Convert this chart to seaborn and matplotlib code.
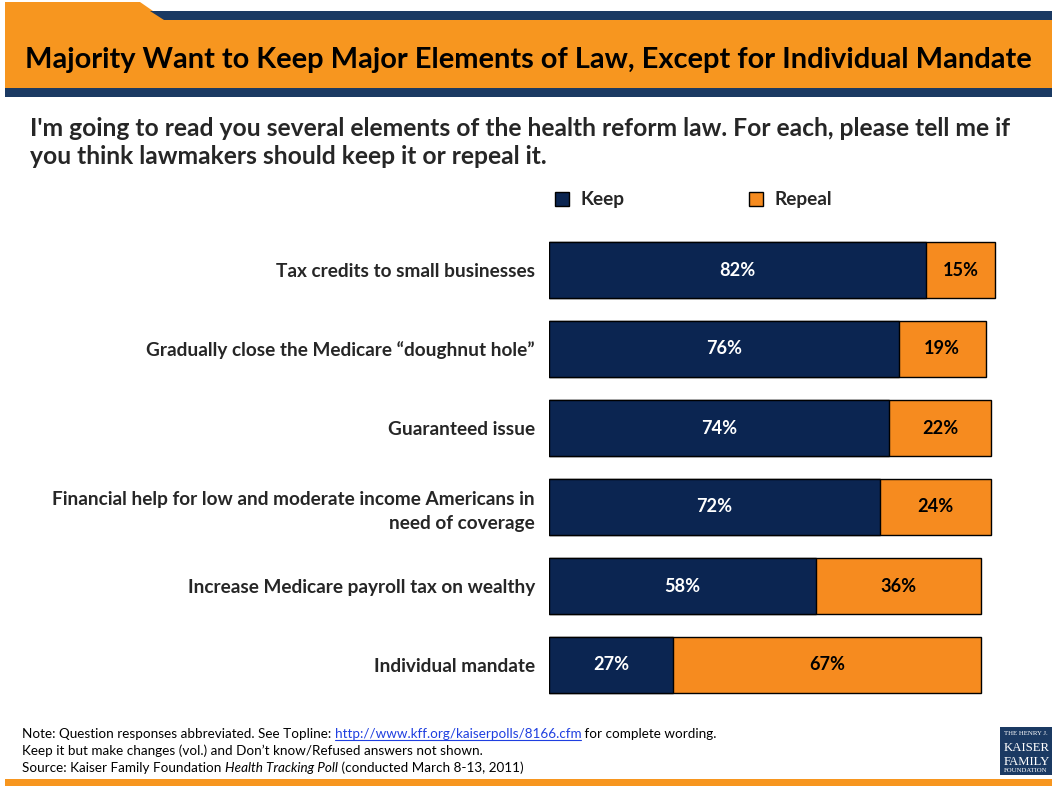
import matplotlib
matplotlib.use("Agg")
import matplotlib.pyplot as plt
from matplotlib.patches import Rectangle, Polygon
from matplotlib.lines import Line2D
import seaborn as sns
import pandas as pd

# Survey items and shares (percent)
items = [
    "Tax credits to small businesses",
    "Gradually close the Medicare \u201cdoughnut hole\u201d",
    "Guaranteed issue",
    "Financial help for low and moderate income Americans in\nneed of coverage",
    "Increase Medicare payroll tax on wealthy",
    "Individual mandate",
]
keep = [82, 76, 74, 72, 58, 27]
repeal = [15, 19, 22, 24, 36, 67]

NAVY = "#0B2551"
ORANGE = "#F68B1F"
BAND_NAVY = "#1B3A63"
BAND_ORANGE = "#F7961F"

W, H = 1052, 786
sns.set_theme(style="white")
plt.rcParams["font.family"] = ["Lato", "DejaVu Sans"]

fig = plt.figure(figsize=(W / 100, H / 100), dpi=100)
renderer = fig.canvas.get_renderer()


def fx(x):
    return x / W


def fy(y):
    return 1 - y / H


def width_of(t):
    return t.get_window_extent(renderer).width


def fitted_size(s, target, weight="bold", style="normal", family=None):
    t = fig.text(0, 0, s, fontsize=10, fontweight=weight, fontstyle=style,
                 family=family or plt.rcParams["font.family"])
    w = width_of(t)
    t.remove()
    return 10 * target / w


# ---- header band ----
fig.patches.append(Polygon([(fx(5), fy(2)), (fx(140), fy(2)), (fx(166), fy(20)),
                            (fx(W), fy(20)), (fx(W), fy(88)), (fx(5), fy(88))],
                           closed=True, transform=fig.transFigure,
                           facecolor=BAND_ORANGE, edgecolor="none", zorder=0))
fig.patches.append(Polygon([(fx(150), fy(11)), (fx(W), fy(11)), (fx(W), fy(20)),
                            (fx(164), fy(20))], closed=True, transform=fig.transFigure,
                           facecolor=BAND_NAVY, edgecolor="none", zorder=0))
fig.patches.append(Rectangle((fx(5), fy(97)), fx(W - 5), 9 / H, transform=fig.transFigure,
                             facecolor=BAND_NAVY, edgecolor="none", zorder=0))
for yy in range(26, 88, 6):
    fig.lines.append(Line2D([fx(5), fx(W)], [fy(yy), fy(yy)], transform=fig.transFigure,
                            color="white", alpha=0.07, lw=1.2, zorder=0))

title = "Majority Want to Keep Major Elements of Law, Except for Individual Mandate"
fig.text(fx(25), fy(60), title, fontsize=fitted_size(title, 1008), fontweight="bold",
         color="black", ha="left", va="center")

sub1 = "I'm going to read you several elements of the health reform law. For each, please tell me if"
sub2 = "you think lawmakers should keep it or repeal it."
sub_fs = fitted_size(sub1, 986)
fig.text(fx(30), fy(128), sub1, fontsize=sub_fs, fontweight="bold", ha="left", va="center")
fig.text(fx(30), fy(157), sub2, fontsize=sub_fs, fontweight="bold", ha="left", va="center")

# ---- bars ----
df = pd.DataFrame({"item": items, "keep": keep, "repeal": repeal})
df["total"] = df["keep"] + df["repeal"]

row = 79.0
ax_top = 270 - row / 2
ax_h = row * len(items)
ax = fig.add_axes([fx(549), fy(ax_top + ax_h), 460 / W, ax_h / H])

sns.barplot(data=df, x="total", y="item", orient="h", color=ORANGE, saturation=1,
            edgecolor="black", linewidth=1, width=0.7, ax=ax)
sns.barplot(data=df, x="keep", y="item", orient="h", color=NAVY, saturation=1,
            edgecolor="black", linewidth=1, width=0.7, ax=ax)

ax.set_xlim(0, 100)
ax.set_ylim(len(items) - 0.5, -0.5)
ax.set_xlabel("")
ax.set_ylabel("")
ax.set_xticks([])
for sp in ax.spines.values():
    sp.set_visible(False)
ax.set_facecolor("none")

lab_fs = fitted_size("Financial help for low and moderate income Americans in", 486)
ax.tick_params(axis="y", length=0, pad=10, labelsize=lab_fs)
for lbl in ax.get_yticklabels():
    lbl.set_fontweight("bold")
    lbl.set_linespacing(1.5)

val_fs = fitted_size("82%", 36)
for i, (k, r) in enumerate(zip(keep, repeal)):
    ax.text(k / 2, i, f"{k}%", color="white", fontsize=val_fs, fontweight="bold",
            ha="center", va="center")
    ax.text(k + r / 2, i, f"{r}%", color="black", fontsize=val_fs, fontweight="bold",
            ha="center", va="center")

# ---- legend ----
leg_fs = fitted_size("Repeal", 58)
for x0, name, col in [(555, "Keep", NAVY), (749, "Repeal", ORANGE)]:
    fig.patches.append(Rectangle((fx(x0), fy(206)), 14 / W, 14 / H, transform=fig.transFigure,
                                 facecolor=col, edgecolor="black", lw=1))
    fig.text(fx(x0 + 26), fy(199), name, fontsize=leg_fs, fontweight="bold",
             ha="left", va="center")

# ---- footnotes ----
note_parts = [
    ("Note: Question responses abbreviated. See Topline: ", "black", "normal", False),
    ("http://www.kff.org/kaiserpolls/8166.cfm", "#1F3FE0", "normal", True),
    (" for complete wording.", "black", "normal", False),
]
note_full = "".join(p[0] for p in note_parts)
note_fs = fitted_size(note_full, 691, weight="normal")


def chain(parts, x, y, fs):
    for s, col, style, underline in parts:
        t = fig.text(fx(x), fy(y), s, fontsize=fs, color=col, fontstyle=style,
                     ha="left", va="baseline")
        w = width_of(t)
        if underline:
            fig.lines.append(Line2D([fx(x), fx(x + w)], [fy(y + 2), fy(y + 2)],
                                    transform=fig.transFigure, color=col, lw=0.8))
        x += w
    return x


chain(note_parts, 22, 738, note_fs)
chain([("Keep it but make changes (vol.) and Don\u2019t know/Refused answers not shown.",
        "black", "normal", False)], 22, 755, note_fs)
chain([("Source: Kaiser Family Foundation ", "black", "normal", False),
       ("Health Tracking Poll", "black", "italic", False),
       (" (conducted March 8-13, 2011)", "black", "normal", False)], 22, 772, note_fs)

# bottom rule
fig.patches.append(Rectangle((fx(5), fy(786)), fx(W - 5), 7 / H, transform=fig.transFigure,
                             facecolor=BAND_ORANGE, edgecolor="none"))

# ---- foundation mark ----
fig.patches.append(Rectangle((fx(1000), fy(775)), 52 / W, 48 / H, transform=fig.transFigure,
                             facecolor=BAND_NAVY, edgecolor="none"))
serif = ["Liberation Serif", "DejaVu Serif"]
mark_fs = fitted_size("KAISER", 46, weight="normal", family=serif)
fig.text(fx(1004), fy(735), "THE HENRY J.", fontsize=fitted_size("THE HENRY J.", 44, weight="normal", family=serif),
         color="white", family=serif, ha="left", va="baseline")
fig.text(fx(1004), fy(751), "KAISER", fontsize=mark_fs, color="white", family=serif,
         ha="left", va="baseline")
fig.text(fx(1004), fy(765), "FAMILY", fontsize=mark_fs, color="white", family=serif,
         ha="left", va="baseline")
fig.text(fx(1004), fy(772), "FOUNDATION", fontsize=fitted_size("FOUNDATION", 44, weight="normal", family=serif),
         color="white", family=serif, ha="left", va="baseline")

fig.savefig("out.png", dpi=100)
